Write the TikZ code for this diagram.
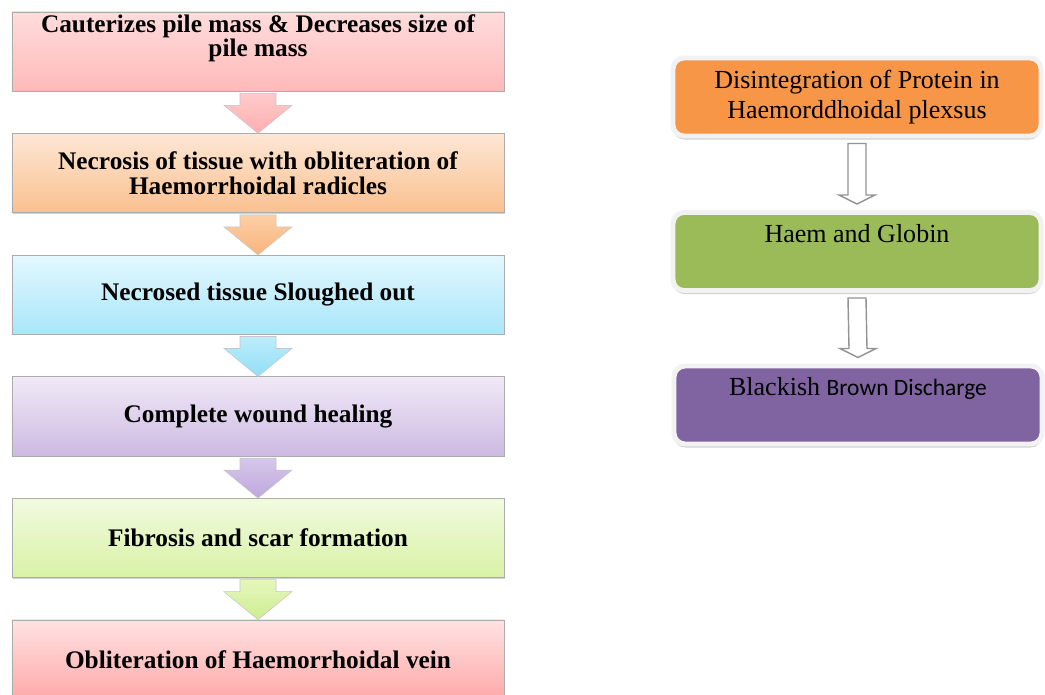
\documentclass[tikz,border=0pt]{standalone}
\usepackage{fontspec}
\setmainfont{Liberation Serif}
\newfontfamily\calibrifont{Carlito}
\usetikzlibrary{positioning,calc,shadows}

% box colours (top / bottom of the shading)
\definecolor{pink_top}{HTML}{FFDCDC}
\definecolor{pink_bot}{HTML}{FFB9B9}
\definecolor{peach_top}{HTML}{FDE7D5}
\definecolor{peach_bot}{HTML}{FAC08F}
\definecolor{cyan_top}{HTML}{E3F8FE}
\definecolor{cyan_bot}{HTML}{A9E6F9}
\definecolor{lav_top}{HTML}{F0E9F6}
\definecolor{lav_bot}{HTML}{CDBAE3}
\definecolor{lime_top}{HTML}{F2FADF}
\definecolor{lime_bot}{HTML}{D8F2A6}
\definecolor{rose_top}{HTML}{FFE2E2}
\definecolor{rose_bot}{HTML}{FFA9A9}
\definecolor{orange_fill}{HTML}{F79646}
\definecolor{green_fill}{HTML}{9BBB59}
\definecolor{purple_fill}{HTML}{8064A2}

\tikzset{
  flow_box/.style={rectangle, draw=gray!65, minimum width=12.3cm,
    minimum height=1.975cm, align=center,
    drop shadow={shadow xshift=0.8pt, shadow yshift=-0.8pt, opacity=0.35},
    font=\fontsize{18}{17.8}\selectfont\bfseries},
  flow_text/.style={align=center, inner sep=0pt,
    font=\fontsize{18}{16.8}\selectfont\bfseries},
  block_arrow/.style={draw=gray!45, line width=0.4pt},
  step_box/.style={rectangle, rounded corners=8pt, draw=gray!10,
    line width=3.5pt, minimum width=9.2cm, minimum height=1.95cm,
    align=center,
    drop shadow={shadow xshift=0pt, shadow yshift=-2.5pt, opacity=0.35},
    font=\fontsize{18.5}{21.5}\selectfont},
  step_text/.style={align=center, inner sep=0pt,
    font=\fontsize{18.5}{21.5}\selectfont},
  hollow_arrow/.style={draw=gray!85, fill=white, line width=1pt},
}

\begin{document}
\begin{tikzpicture}[x=0.025cm, y=-0.025cm]
\useasboundingbox[fill=white] (0,0) rectangle (1045,695);
    % left column
    \node[flow_box, top color=pink_top, bottom color=pink_bot] (box_cauter) at (258,51.5) {};
    \node[flow_text, anchor=north] (text_cauter) at ($(box_cauter.north)+(0,3)$)
        {Cauterizes pile mass \& Decreases size of\\pile mass};
    \node[flow_box, below=1.05cm of box_cauter, top color=peach_top, bottom color=peach_bot] (box_necrosis)
        {Necrosis of tissue with obliteration of\\Haemorrhoidal radicles};
    \node[flow_box, below=1.05cm of box_necrosis, top color=cyan_top, bottom color=cyan_bot] (box_slough)
        {Necrosed tissue Sloughed out};
    \node[flow_box, below=1.05cm of box_slough, top color=lav_top, bottom color=lav_bot] (box_heal)
        {Complete wound healing};
    \node[flow_box, below=1.05cm of box_heal, top color=lime_top, bottom color=lime_bot] (box_fibro)
        {Fibrosis and scar formation};
    \node[flow_box, below=1.05cm of box_fibro, top color=rose_top, bottom color=rose_bot] (box_oblit)
        {Obliteration of Haemorrhoidal vein};
    % left arrows
    \foreach \from/\to/\ctop/\cbot in {box_cauter/box_necrosis/FFCBCB/FFAEAE,
        box_necrosis/box_slough/FCCFA6/FAB47C, box_slough/box_heal/BDEDFB/92DEF6,
        box_heal/box_fibro/D6C7EA/BEA8DD, box_fibro/box_oblit/E5F6BE/CDEE8F} {
      \definecolor{arrow_top}{HTML}{\ctop}
      \definecolor{arrow_bot}{HTML}{\cbot}
      \draw[block_arrow, top color=arrow_top, bottom color=arrow_bot]
        ($(\from.south)+(-18,2)$) -- ($(\from.south)+(18,2)$) -- ($(\from.south)+(18,14)$)
        -- ($(\from.south)+(34,14)$) -- (\to.north) -- ($(\from.south)+(-34,14)$)
        -- ($(\from.south)+(-18,14)$) -- cycle;
    }
    % right column
    \node[step_box, fill=orange_fill] (step_protein) at (857,97)
        {Disintegration of Protein in\\Haemorddhoidal plexsus};
    \node[step_box, fill=green_fill] (step_haem) at (857,251.5) {};
    \node[step_text, anchor=north] (text_haem) at ($(step_haem.north)+(0,14)$) {Haem and Globin};
    \node[step_box, fill=purple_fill] (step_discharge) at (858,405) {};
    \node[step_text, anchor=north] (text_discharge) at ($(step_discharge.north)+(0,14)$)
        {Blackish {\calibrifont\fontsize{16.7}{18}\selectfont Brown Discharge}};
    % right arrows
    \foreach \from/\to in {step_protein/step_haem, step_haem/step_discharge} {
      \draw[hollow_arrow]
        ($(\from.south)+(-9,5)$) -- ($(\from.south)+(9,5)$) -- ($(\to.north)+(9,-15)$)
        -- ($(\to.north)+(18,-15)$) -- ($(\to.north)+(0,-6)$) -- ($(\to.north)+(-18,-15)$)
        -- ($(\to.north)+(-9,-15)$) -- cycle;
    }
\end{tikzpicture}
\end{document}
